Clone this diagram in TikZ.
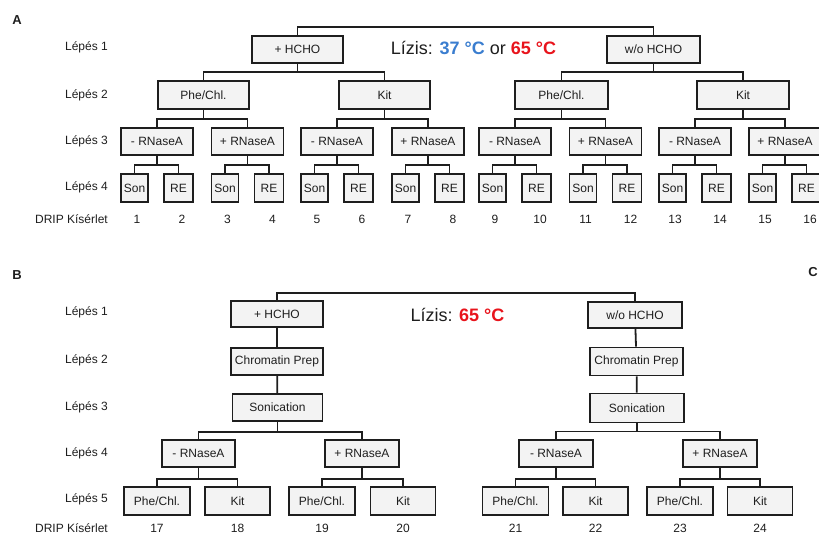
\documentclass[tikz,border=0pt]{standalone}
\usepackage{fontspec}
\setmainfont{Liberation Sans}
\usetikzlibrary{calc}
\definecolor{boxfill}{HTML}{F3F3F3}
\definecolor{ink}{HTML}{1E1E1E}
\definecolor{hotred}{HTML}{E8141C}
\definecolor{coolblue}{HTML}{3A7DCF}
\tikzset{
  box/.style={draw=ink, fill=boxfill, line width=1.8pt, inner sep=0pt,
    font=\fontsize{12}{14}\selectfont, text=ink},
  conn/.style={draw=ink, line width=1.8pt},
  steplabel/.style={anchor=east, inner sep=0pt, font=\fontsize{12}{14}\selectfont, text=ink},
  num/.style={inner sep=0pt, font=\fontsize{12}{14}\selectfont, text=ink},
  panel/.style={inner sep=0pt, font=\fontsize{13}{15}\selectfont\bfseries, text=ink},
  lysis/.style={inner sep=0pt, font=\fontsize{18}{20}\selectfont, text=ink},
}
% parent -> two children through a horizontal bar
\newcommand{\forktwo}[4]{%
  \draw[conn] (#1.south) -- ++(0,#4);
  \draw[conn] (#2.north) |- ($(#1.south)+(0,#4)$) -| (#3.north);
}
\begin{document}
\begin{tikzpicture}[x=1pt,y=-1pt]
\useasboundingbox (0,0) rectangle (819,536);
\clip (0,0) rectangle (819,536);

% ---------------- Panel A ----------------
\node[panel] (pA) at (17,20) {A};
\node[steplabel] (a1) at (108,47) {Lépés 1};
\node[steplabel] (a2) at (108,95) {Lépés 2};
\node[steplabel] (a3) at (108,141) {Lépés 3};
\node[steplabel] (a4) at (108,187) {Lépés 4};
\node[steplabel] (a5) at (108,219) {DRIP Kísérlet};

\node[lysis] (lysA) at (473.5,48) {Lízis: \textcolor{coolblue}{\bfseries 37 °C} or \textcolor{hotred}{\bfseries 65 °C}};

\node[box, minimum width=91pt, minimum height=27pt] (h1) at (297.5,49.5) {+ HCHO};
\node[box, minimum width=93pt, minimum height=27pt] (w1) at (653.5,49.5) {w/o HCHO};
\draw[conn] (h1.north) |- ($(h1.north)!0.5!(w1.north)+(0,-8)$) -| (w1.north);

\node[box, minimum width=91pt, minimum height=28pt] (pcA1) at (203.5,95) {Phe/Chl.};
\node[box, minimum width=91pt, minimum height=28pt] (kA1) at (384.5,95) {Kit};
\node[box, minimum width=93pt, minimum height=28pt] (pcA2) at (561.5,95) {Phe/Chl.};
\node[box, minimum width=92pt, minimum height=28pt] (kA2) at (743,95) {Kit};
\forktwo{h1}{pcA1}{kA1}{8}
\forktwo{w1}{pcA2}{kA2}{8}

% RNaseA level and Son / RE leaves
\foreach \c [count=\i] in {157,247.5,337,428,515,605.5,695,785} {
  \node[box, minimum width=72pt, minimum height=27pt] (rA\i) at (\c,141.5)
    {\ifodd\i - RNaseA\else + RNaseA\fi};
  \node[box, minimum width=27pt, minimum height=28pt] (sA\i) at (\c-22.5,188) {Son};
  \node[box, minimum width=29pt, minimum height=28pt] (eA\i) at (\c+21.5,188) {RE};
  \forktwo{rA\i}{sA\i}{eA\i}{9}
  \pgfmathtruncatemacro{\na}{2*\i-1}
  \pgfmathtruncatemacro{\nb}{2*\i}
  \node[num] (nA\na) at (\c-20,219) {\na};
  \node[num] (nA\nb) at (\c+25,219) {\nb};
}
\forktwo{pcA1}{rA1}{rA2}{9}
\forktwo{kA1}{rA3}{rA4}{9}
\forktwo{pcA2}{rA5}{rA6}{9}
\forktwo{kA2}{rA7}{rA8}{9}

% ---------------- Panel B ----------------
\node[panel] (pB) at (17,275) {B};
\node[panel] (pC) at (813,272) {C};
\node[steplabel] (b1) at (108,312) {Lépés 1};
\node[steplabel] (b2) at (108,360) {Lépés 2};
\node[steplabel] (b3) at (108,407) {Lépés 3};
\node[steplabel] (b4) at (108,453) {Lépés 4};
\node[steplabel] (b5) at (108,499) {Lépés 5};
\node[steplabel] (b6) at (108,528) {DRIP Kísérlet};

\node[lysis] (lysB) at (457.5,315) {Lízis: \textcolor{hotred}{\bfseries 65 °C}};

\node[box, minimum width=92pt, minimum height=26pt] (hB) at (277,314) {+ HCHO};
\node[box, minimum width=94pt, minimum height=26pt] (wB) at (635,315) {w/o HCHO};
\draw[conn] (hB.north) |- ($(hB.north)!0.5!(wB.north)+(0,-8)$) -| (wB.north);

\node[box, minimum width=92pt, minimum height=27pt] (cB1) at (277,361.5) {Chromatin Prep};
\node[box, minimum width=93pt, minimum height=28pt] (cB2) at (636.5,361.5) {Chromatin Prep};
\node[box, minimum width=90pt, minimum height=27pt] (sB1) at (277.5,407.5) {Sonication};
\node[box, minimum width=94pt, minimum height=29pt] (sB2) at (637,408) {Sonication};
\draw[conn] (hB) -- (cB1);
\draw[conn] (cB1) -- (sB1);
\draw[conn] (wB) -- (cB2);
\draw[conn] (cB2) -- (sB2);

\node[box, minimum width=73pt, minimum height=27pt] (rB1) at (198.5,453.5) {- RNaseA};
\node[box, minimum width=74pt, minimum height=27pt] (rB2) at (362,453.5) {+ RNaseA};
\node[box, minimum width=74pt, minimum height=27pt] (rB3) at (556,453.5) {- RNaseA};
\node[box, minimum width=74pt, minimum height=27pt] (rB4) at (720,453.5) {+ RNaseA};
\forktwo{sB1}{rB1}{rB2}{10}
\forktwo{sB2}{rB3}{rB4}{8}

\foreach \p/\k/\i/\na/\nb in {157/237.5/1/17/18, 322/403/2/19/20, 515.5/595.5/3/21/22, 680/760/4/23/24} {
  \node[box, minimum width=66pt, minimum height=28pt] (pB\i) at (\p,501) {Phe/Chl.};
  \node[box, minimum width=65pt, minimum height=28pt] (kB\i) at (\k,501) {Kit};
  \forktwo{rB\i}{pB\i}{kB\i}{11}
  \node[num] (nB\na) at (\p,528) {\na};
  \node[num] (nB\nb) at (\k,528) {\nb};
}
\end{tikzpicture}
\end{document}
